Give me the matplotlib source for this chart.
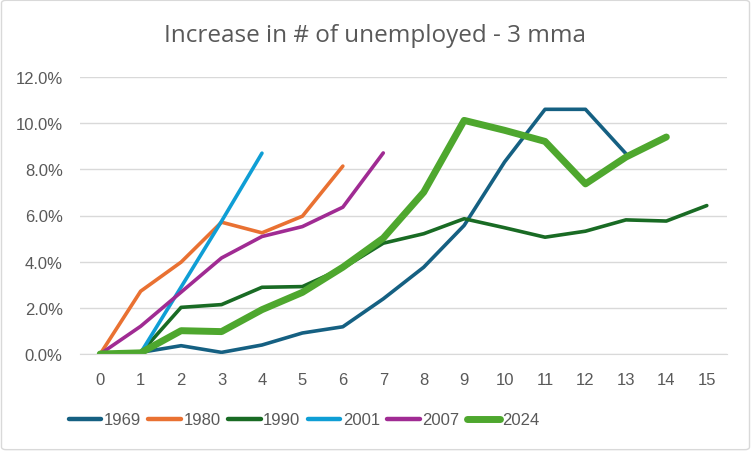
import matplotlib
matplotlib.use("Agg")
import matplotlib.pyplot as plt
from matplotlib.ticker import FuncFormatter, MultipleLocator
from matplotlib.patches import FancyBboxPatch

months = list(range(16))
s1969 = [0.0, 0.07, 0.36, 0.07, 0.39, 0.91, 1.18, 2.39, 3.76, 5.57, 8.32, 10.6, 10.6, 8.68]
s1980 = [0.0, 2.72, 3.98, 5.71, 5.25, 5.97, 8.14]
s1990 = [0.0, 0.05, 2.02, 2.14, 2.89, 2.92, 3.72, 4.8, 5.21, 5.86, 5.47, 5.06, 5.32, 5.81, 5.76, 6.43]
s2001 = [0.0, 0.05, 2.9, 5.75, 8.7]
s2007 = [0.0, 1.2, 2.68, 4.16, 5.09, 5.52, 6.36, 8.71]
s2024 = [0.0, 0.05, 1.01, 0.97, 1.92, 2.67, 3.76, 5.02, 7.01, 10.12, 9.69, 9.21, 7.37, 8.53, 9.4]

series = [
    ("1969", s1969, "#156082", 2.6),
    ("1980", s1980, "#E97132", 2.6),
    ("1990", s1990, "#196B24", 2.6),
    ("2001", s2001, "#0F9ED5", 2.6),
    ("2007", s2007, "#A02B93", 2.6),
    ("2024", s2024, "#4EA72E", 5.0),
]

plt.rcParams['font.family'] = ['Liberation Sans Narrow', 'Liberation Sans', 'DejaVu Sans']
grey = "#595959"

fig = plt.figure(figsize=(7.51, 4.52), dpi=100)
fig.patch.set_facecolor("white")
border = FancyBboxPatch((0.002, 0.003), 0.996, 0.994, boxstyle="round,pad=0,rounding_size=0.006",
                        transform=fig.transFigure, facecolor="none", edgecolor="#D9D9D9", linewidth=1)
fig.patches.append(border)

ax = fig.add_axes([80/751, (452-355)/452, 647/751, (355-78)/452])
for name, vals, col, lw in series:
    ax.plot(months[:len(vals)], [v/100 for v in vals], color=col, lw=lw, label=name,
            solid_capstyle="round", solid_joinstyle="round")

ax.set_xlim(-0.5, 15.5)
ax.set_ylim(0, 0.12)
ax.set_xticks(months)
ax.yaxis.set_major_locator(MultipleLocator(0.02))
ax.yaxis.set_major_formatter(FuncFormatter(lambda v, p: f"{v*100:.1f}%"))
ax.grid(axis="y", color="#D9D9D9", lw=1)
ax.set_axisbelow(True)
for s in ["top", "right", "left"]:
    ax.spines[s].set_visible(False)
ax.spines["bottom"].set_color("#D9D9D9")
ax.tick_params(axis="both", length=0, colors=grey, labelsize=12)
ax.tick_params(axis="x", pad=13)
ax.tick_params(axis="y", pad=12.5)

fig.text(0.5, 1 - 36/452, "Increase in # of unemployed - 3 mma", ha="center", va="center",
         fontsize=17.5, color=grey, family=["Open Sans", "DejaVu Sans"])

leg = fig.legend(loc="center", bbox_to_anchor=(304/751, 1 - 421/452), ncol=6, frameon=False,
                 fontsize=12, handlelength=1.95, handletextpad=0.15, columnspacing=0.45)
for t in leg.get_texts():
    t.set_color(grey)
for h in leg.get_lines():
    h.set_solid_capstyle("round")
    if h.get_linewidth() < 4:
        h.set_linewidth(3.2)

fig.savefig("out.png", dpi=100)
